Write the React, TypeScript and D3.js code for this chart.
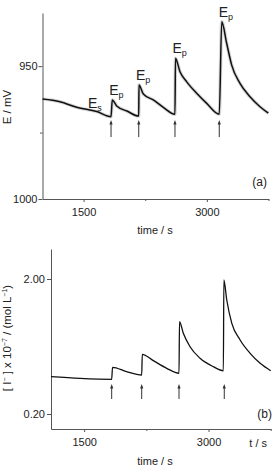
import React, { FC } from 'react';
import * as d3 from 'd3';

// panel (a): electrode potential vs time
const timeA = [1000, 1213, 1416, 1660, 1834, 1849, 1903, 2028, 2171, 2174, 2227, 2348, 2470, 2612, 2618, 2673, 2755, 2876, 2998, 3151, 3181, 3241, 3302, 3403, 3525, 3647, 3748];
const potentialA = [962.4, 963.4, 965.5, 967.1, 969.0, 962.7, 965.0, 966.9, 968.8, 957.1, 960.5, 962.7, 965.5, 968.1, 947.0, 952.1, 955.9, 960.2, 964.0, 968.1, 933.3, 941.4, 949.6, 956.5, 961.5, 965.3, 967.7];
const peakTimesA = [1849, 2174, 2618, 3181];
const arrowTimesA = [1834, 2171, 2612, 3151];
const arrowSpanA = [976.7, 970.3];
const esLabel = { t: 1554, e: 965.7 };

// panel (b): iodide concentration vs time
const timeB = [1100, 1450, 1832, 1842, 2010, 2194, 2201, 2334, 2496, 2644, 2650, 2696, 2777, 2898, 3058, 3179, 3185, 3220, 3281, 3381, 3502, 3623, 3750];
const concB = [0.697, 0.675, 0.663, 0.823, 0.765, 0.72, 0.996, 0.911, 0.809, 0.743, 1.431, 1.276, 1.097, 0.943, 0.831, 0.777, 1.987, 1.72, 1.409, 1.187, 1.009, 0.876, 0.777];
const arrowTimesB = [1832, 2194, 2644, 3190];
const arrowSpanB = [0.4, 0.6];

const xTicks = [1500, 3000];
const xMinorTicks = [2250, 3750];
const yTicksA = [950, 1000];
const yMinorTicksA = [975];
const yTicksB = [0.2, 2.0];

const W = 274;
const H = 466;
const lineColor = '#555';
const textColor = '#222';

type G = d3.Selection<SVGGElement, undefined, null, undefined>;

const style = (g: G) => {
  g.select('.domain').attr('stroke', lineColor);
  g.selectAll('.tick line').attr('stroke', lineColor);
  g.selectAll('.tick text').attr('fill', textColor).attr('font-size', 11);
};

const App: FC = () => (
  <div
    style={{ position: 'absolute', left: 0, top: 0 }}
    ref={(elem) => {
      if (!elem) {
        return;
      }
      elem.innerHTML = '';
      const svg = chart();
      if (svg) {
        elem.appendChild(svg);
      }
    }}
  />
);

const arrow = (
  g: G,
  times: number[],
  x: d3.ScaleLinear<number, number>,
  y0: number,
  y1: number,
) => {
  const a = g.append('g').attr('stroke', '#333').attr('fill', '#333');
  a.selectAll('line')
    .data(times)
    .join('line')
    .attr('x1', (d) => x(d))
    .attr('x2', (d) => x(d))
    .attr('y1', y0)
    .attr('y2', y1 + 2)
    .attr('stroke-width', 1);
  a.selectAll('path')
    .data(times)
    .join('path')
    .attr('stroke', 'none')
    .attr('d', (d) => `M${x(d) - 1.6},${y1 + 4.5}L${x(d)},${y1}L${x(d) + 1.6},${y1 + 4.5}Z`);
};

const chart = () => {
  const svg = d3
    .create('svg')
    .attr('width', W)
    .attr('height', H)
    .attr('viewBox', `0 0 ${W} ${H}`)
    .attr('font-family', '"Liberation Sans", Arial, sans-serif');
  svg.append('rect').attr('width', W).attr('height', H).attr('fill', 'white');

  // ---- panel (a)
  const xA = d3.scaleLinear().domain([1000, 3750]).range([42.5, 268.5]);
  const yA = d3.scaleLinear().domain([1000, 930]).range([199, 13]);

  svg
    .append('g')
    .attr('transform', 'translate(0,199)')
    .call(d3.axisBottom(xA).tickValues(xTicks).tickSize(3).tickSizeOuter(0).tickPadding(6).tickFormat(d3.format('d')))
    .call(style);
  svg
    .append('g')
    .attr('transform', 'translate(0,199)')
    .call(d3.axisBottom(xA).tickValues(xMinorTicks).tickSize(2).tickFormat(() => ''))
    .call((g) => g.select('.domain').remove())
    .call(style);
  svg
    .append('g')
    .attr('transform', `translate(${xA.range()[0]},0)`)
    .call(d3.axisLeft(yA).tickValues(yTicksA).tickSize(4).tickSizeOuter(0).tickPadding(1).tickFormat(d3.format('d')))
    .call(style);
  svg
    .append('g')
    .attr('transform', `translate(${xA.range()[0]},0)`)
    .call(d3.axisLeft(yA).tickValues(yMinorTicksA).tickSize(2.5).tickFormat(() => ''))
    .call((g) => g.select('.domain').remove())
    .call(style);

  const lineA = d3
    .line<number>()
    .x((d, i) => xA(timeA[i]))
    .y((d) => yA(d))
    .curve(d3.curveMonotoneX);
  // fuzzy band standing in for the recording noise
  svg
    .append('path')
    .attr('d', lineA(potentialA))
    .attr('fill', 'none')
    .attr('stroke', '#999')
    .attr('stroke-opacity', 0.4)
    .attr('stroke-width', 3.5);
  svg
    .append('path')
    .attr('d', lineA(potentialA))
    .attr('fill', 'none')
    .attr('stroke', '#111')
    .attr('stroke-width', 1.5);

  arrow(svg.append('g'), arrowTimesA, xA, yA(arrowSpanA[0]), yA(arrowSpanA[1]));

  const labels = svg.append('g').attr('fill', textColor);
  const ep = labels
    .selectAll('text.ep')
    .data(peakTimesA)
    .join('text')
    .attr('class', 'ep')
    .attr('font-size', 14)
    .attr('x', (d) => xA(d) - 3)
    .attr('y', (d) => yA(potentialA[timeA.indexOf(d)]) - 5);
  ep.append('tspan').text('E');
  ep.append('tspan').attr('font-size', 9).attr('dy', 3).text('p');

  const es = labels
    .append('text')
    .attr('font-size', 14)
    .attr('x', xA(esLabel.t))
    .attr('y', yA(esLabel.e));
  es.append('tspan').text('E');
  es.append('tspan').attr('font-size', 9).attr('dy', 3).text('s');

  labels.append('text').attr('x', 267).attr('y', 186).attr('font-size', 12).attr('text-anchor', 'end').text('(a)');
  labels.append('text').attr('x', 155).attr('y', 234).attr('font-size', 11).attr('text-anchor', 'middle').text('time / s');
  labels
    .append('text')
    .attr('transform', 'translate(11,107) rotate(-90)')
    .attr('font-size', 11.5)
    .attr('text-anchor', 'middle')
    .text('E / mV');

  // ---- panel (b)
  const xB = d3.scaleLinear().domain([1100, 3750]).range([51, 270.7]);
  const yB = d3.scaleLinear().domain([0, 2.4]).range([429, 249]);

  svg
    .append('g')
    .attr('transform', 'translate(0,429)')
    .call(d3.axisBottom(xB).tickValues(xTicks).tickSize(3).tickSizeOuter(0).tickPadding(6).tickFormat(d3.format('d')))
    .call(style);
  svg
    .append('g')
    .attr('transform', 'translate(0,429)')
    .call(d3.axisBottom(xB).tickValues(xMinorTicks).tickSize(2).tickFormat(() => ''))
    .call((g) => g.select('.domain').remove())
    .call(style);
  svg
    .append('g')
    .attr('transform', `translate(${xB.range()[0]},0)`)
    .call(d3.axisLeft(yB).tickValues(yTicksB).tickSize(4).tickSizeOuter(0).tickPadding(2).tickFormat(d3.format('.2f')))
    .call(style);

  const lineB = d3
    .line<number>()
    .x((d, i) => xB(timeB[i]))
    .y((d) => yB(d))
    .curve(d3.curveMonotoneX);
  svg
    .append('path')
    .attr('d', lineB(concB))
    .attr('fill', 'none')
    .attr('stroke', '#111')
    .attr('stroke-width', 1.3);

  arrow(svg.append('g'), arrowTimesB, xB, yB(arrowSpanB[0]), yB(arrowSpanB[1]));

  const labelsB = svg.append('g').attr('fill', textColor).attr('font-size', 11);
  labelsB.append('text').attr('x', 272).attr('y', 418).attr('font-size', 12).attr('text-anchor', 'end').text('(b)');
  labelsB.append('text').attr('x', 267).attr('y', 447).attr('text-anchor', 'end').text('t / s');
  labelsB.append('text').attr('x', 155).attr('y', 465).attr('text-anchor', 'middle').text('time / s');
  const yl = labelsB
    .append('text')
    .attr('transform', 'translate(11,338) rotate(-90)')
    .attr('font-size', 11.5)
    .attr('text-anchor', 'middle');
  yl.append('tspan').text('[ I');
  yl.append('tspan').attr('font-size', 7).attr('dy', -4).text('\u2212');
  yl.append('tspan').attr('dy', 4).text(' ] x 10');
  yl.append('tspan').attr('font-size', 7).attr('dy', -4).text('\u22127');
  yl.append('tspan').attr('dy', 4).text(' / (mol L');
  yl.append('tspan').attr('font-size', 7).attr('dy', -4).text('\u22121');
  yl.append('tspan').attr('dy', 4).text(')');

  return svg.node();
};

export default App;
